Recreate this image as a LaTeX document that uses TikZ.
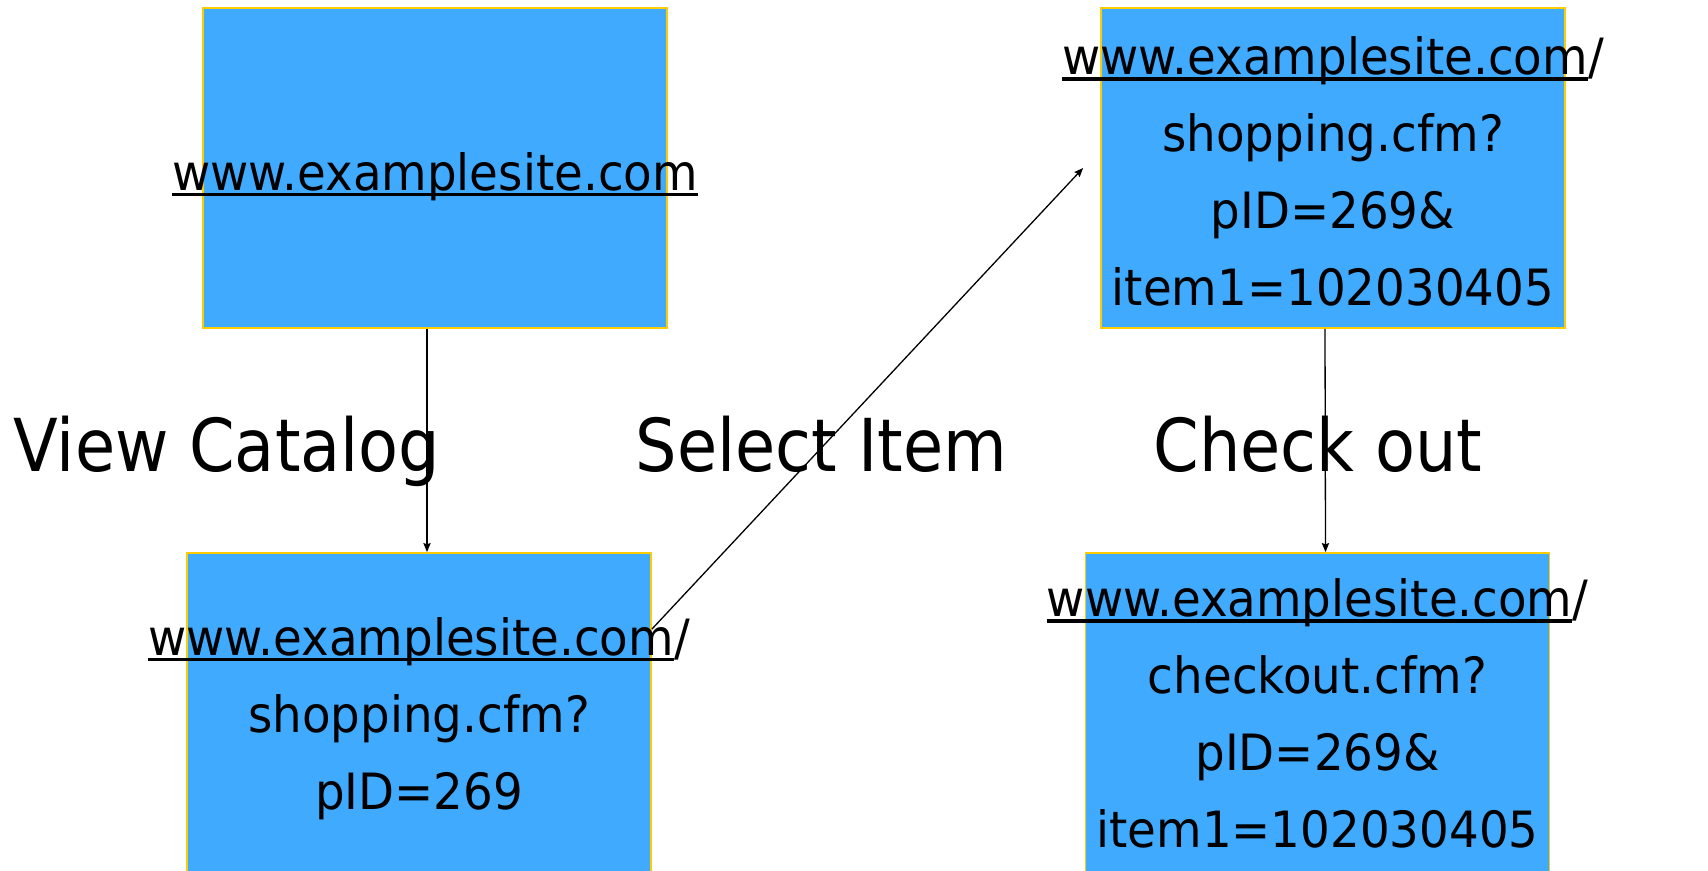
\documentclass[tikz,border=0pt]{standalone}
\usepackage{fontspec}
\setmainfont[FakeStretch=0.895]{DejaVu Sans}
\newfontfamily\urlfont[FakeStretch=0.935]{DejaVu Sans}
\usetikzlibrary{calc,arrows.meta}
\definecolor{pagefill}{RGB}{64,170,255}
\definecolor{pageedge}{RGB}{255,204,0}
\newcommand\urlline[1]{\setbox0\hbox{#1}\rlap{\rule[-0.12em]{\wd0}{0.075em}}\box0}
\begin{document}
\begin{tikzpicture}[x=0.5pt,y=-0.5pt,
page/.style={draw=pageedge,line width=0.9pt,fill=pagefill,minimum width=232pt,minimum height=160pt,inner sep=0pt},
url/.style={font=\urlfont\fontsize{25pt}{38.5pt}\selectfont,align=center,inner sep=0pt},
act/.style={font=\fontsize{36.5pt}{44pt}\selectfont,anchor=base,inner sep=0pt},
link/.style={line width=0.65pt,-{Stealth[length=4.5pt,width=3.6pt,inset=0.6pt]}}]
\useasboundingbox (0,0) rectangle (1708,871);
\clip (0,0) rectangle (1708,871);
\node[page] (home) at (435,168) {};
\node[page] (item) at (1333,168) {};
\node[page] (shop) at (419,713) {};
\node[page] (cart) at (1317.5,713) {};
%
\node[url] (homeurl) at (435,175) {\strut\urlline{www.examplesite.com}};
\node[url] (itemurl) at (1333,175) {\strut\urlline{www.examplesite.com}/\\
\strut shopping.cfm?\\ \strut pID=269\&\\ \strut item1=102030405};
\node[url] (shopurl) at (419,717) {\strut\urlline{www.examplesite.com}/\\
\strut shopping.cfm?\\ \strut pID=269};
\node[url] (carturl) at (1317.5,717) {\strut\urlline{www.examplesite.com}/\\
\strut checkout.cfm?\\ \strut pID=269\&\\ \strut item1=102030405};
%
\node[act] (view) at (227,472) {View Catalog};
\node[act] (select) at (821.5,472) {Select Item};
\node[act] (check) at (1318,472) {Check out};
%
\draw[link] ($(home.south)+(-8,0)$) -- ($(shop.north)+(8,0)$);
\draw[link] ($(shop.north east)+(0,77)$) -- ($(item.west)+(-17,0)$);
\draw[link] ($(item.south)+(-8,0)$) -- ($(cart.north)+(8,0)$);
\end{tikzpicture}
\end{document}
